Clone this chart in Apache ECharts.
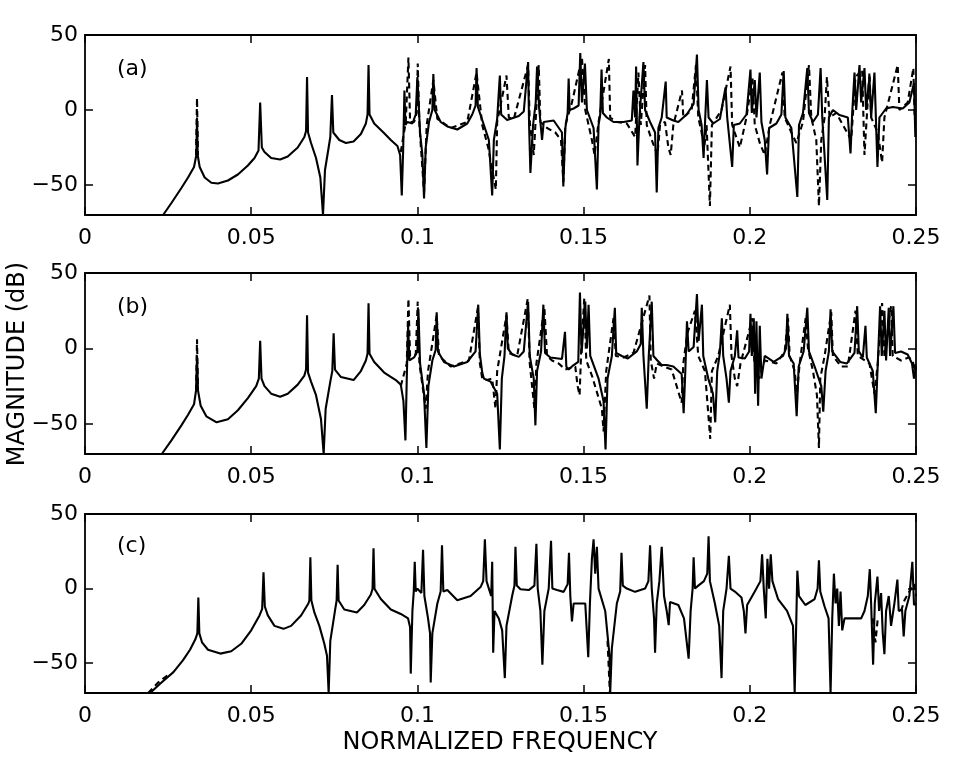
<!DOCTYPE html>
<html>
<head>
<meta charset="utf-8">
<script src="https://cdn.jsdelivr.net/npm/echarts@6/dist/echarts.min.js"></script>
<style>
  html, body { margin: 0; padding: 0; background: #fff; }
  #chart { width: 956px; height: 768px; }
</style>
</head>
<body>
<div id="chart"></div>
<script>
// magnitude responses, [normalized frequency, dB]
const aSolid = [[0.0235,-70],[0.026,-62],[0.029,-52],[0.031,-45],[0.0328,-38],[0.0335,-30],[0.0337,-5],[0.0339,-30],[0.0345,-38],[0.036,-45],[0.038,-48.5],[0.040,-49],[0.043,-47],[0.046,-43],[0.049,-37],[0.051,-32],[0.0522,-27],[0.0527,5],[0.0532,-25],[0.054,-28],[0.056,-32],[0.0587,-33],[0.061,-31],[0.064,-25],[0.066,-18],[0.0665,-14],[0.0668,22],[0.0671,-15],[0.068,-22],[0.0695,-32],[0.0708,-45],[0.0716,-70],[0.0722,-40],[0.0733,-25],[0.0738,-18],[0.0743,10],[0.0747,-15],[0.0765,-20],[0.0785,-22],[0.0808,-21],[0.083,-16],[0.0845,-9],[0.085,-3],[0.0853,30],[0.0856,-3],[0.087,-9],[0.0898,-15],[0.092,-20],[0.094,-24],[0.0948,-30],[0.0953,-57],[0.0957,-28],[0.0961,13],[0.0964,-10],[0.097,-8],[0.0985,-9],[0.0995,-3],[0.1,22],[0.1008,-15],[0.1015,-30],[0.102,-59],[0.1025,-25],[0.1035,-8],[0.1045,0],[0.1048,24],[0.1052,0],[0.107,-8],[0.109,-11],[0.112,-13],[0.115,-9],[0.1165,-3],[0.1175,3],[0.1178,28],[0.1182,2],[0.120,-10],[0.1215,-20],[0.1225,-57],[0.123,-20],[0.124,-6],[0.1248,23],[0.1252,-3],[0.127,-6.7],[0.1305,-4],[0.132,-1],[0.1333,32],[0.1336,-10],[0.134,-42],[0.1348,-10],[0.1356,5],[0.136,29],[0.1366,2],[0.1375,-20],[0.138,-8],[0.141,-7],[0.1435,-15],[0.1439,-51],[0.1445,-12],[0.1452,-2],[0.1455,21],[0.1458,0],[0.147,1],[0.1485,3],[0.149,38],[0.1495,5],[0.1504,31],[0.151,0],[0.153,-12],[0.154,-53],[0.1545,-10],[0.155,-3],[0.1554,27],[0.1558,-2],[0.157,-5],[0.159,-8],[0.162,-8],[0.1645,-7],[0.165,13],[0.1655,-5],[0.1658,29],[0.1662,-37],[0.1668,-5],[0.168,32],[0.1685,0],[0.170,-8],[0.1715,-15],[0.172,-55],[0.1725,-12],[0.1735,-5],[0.1747,19],[0.175,-5],[0.177,-7],[0.1785,-8],[0.181,-3],[0.1831,4],[0.1841,37],[0.1846,0],[0.1855,-10],[0.1861,-32],[0.1866,-5],[0.1871,20],[0.1876,-5],[0.189,-9],[0.191,-6],[0.1927,15],[0.1932,-5],[0.1947,-38],[0.1952,-10],[0.197,-9],[0.199,-3],[0.2002,27],[0.2006,-2],[0.2015,20],[0.202,-5],[0.203,25],[0.2035,-8],[0.2045,-20],[0.2052,-43],[0.2058,-12],[0.208,-9],[0.2095,-3],[0.2102,26],[0.2107,-5],[0.2125,-12],[0.2143,-58],[0.2148,-10],[0.216,-2],[0.2173,28],[0.2178,-2],[0.219,-8],[0.2205,-3],[0.2213,28],[0.2218,-5],[0.2233,-60],[0.2238,-5],[0.225,0],[0.227,-3.4],[0.2295,-5],[0.2303,-29],[0.2308,-2],[0.2315,25],[0.232,0],[0.233,30],[0.2335,5],[0.2345,28],[0.235,0],[0.236,22],[0.2365,-5],[0.2375,25],[0.238,-10],[0.2384,-38],[0.239,-5],[0.241,1],[0.243,2],[0.246,1],[0.248,5],[0.2494,18],[0.2498,-18],[0.25,-18]];

const aDashed = [[0.0334,-30],[0.0337,8],[0.034,-30],['-','-'],[0.095,-28],[0.0965,-8],[0.0973,35],[0.0978,-8],[0.099,-8],[0.0998,-2],[0.1001,31],[0.1006,-10],[0.102,-55],[0.1028,-10],[0.1048,20],[0.106,-6],[0.11,-12],[0.115,-8],[0.1178,25],[0.1195,-10],[0.1213,-25],[0.1236,-53],[0.124,-8],[0.1268,23],[0.1275,-5],[0.129,-6],[0.1333,30],[0.1338,-8],[0.135,-30],[0.1365,30],[0.137,-8],[0.139,-12],[0.1415,-15],[0.1432,-20],[0.1439,-48],[0.1445,-10],[0.1465,5],[0.1495,35],[0.1505,0],[0.1525,-20],[0.1533,-30],[0.1545,-8],[0.1576,34],[0.158,-5],[0.16,-8],[0.163,-9],[0.1655,-18],[0.1665,25],[0.1672,-10],[0.1685,30],[0.169,-10],[0.1705,-20],[0.1722,-30],[0.173,-10],[0.1745,-8],[0.1755,-25],[0.1762,-30],[0.177,-10],[0.1796,13],[0.18,-5],[0.1825,0],[0.1838,30],[0.1845,-5],[0.1855,-15],[0.1863,-25],[0.187,-10],[0.188,-64],[0.1886,-10],[0.1915,0],[0.1942,29],[0.1947,-10],[0.197,-25],[0.199,-5],[0.2008,22],[0.2015,-10],[0.203,-22],[0.2045,-30],[0.206,-10],[0.2098,25],[0.2105,-5],[0.2125,-15],[0.214,-22],[0.216,-8],[0.2178,30],[0.2185,-5],[0.22,-20],[0.2208,-64],[0.2215,-20],[0.2225,-5],[0.2232,22],[0.224,-5],[0.226,-2],[0.2305,-20],[0.2318,22],[0.2338,27],[0.2345,-30],[0.236,25],[0.2365,-5],[0.2385,-15],[0.2398,-35],[0.2405,-5],[0.2445,30],[0.245,0],[0.2475,5],[0.2492,28],[0.2496,-5],[0.25,-5]];

const bSolid = [[0.0231,-70],[0.026,-61],[0.029,-51],[0.031,-44],[0.0328,-37],[0.0334,-28],[0.0337,-5],[0.034,-28],[0.0348,-38],[0.0365,-45],[0.0396,-49],[0.043,-47],[0.046,-41],[0.049,-33],[0.0515,-25],[0.0523,-20],[0.0527,5],[0.0531,-20],[0.054,-25],[0.056,-30],[0.0587,-32],[0.061,-30],[0.064,-24],[0.066,-18],[0.0665,-14],[0.0668,22],[0.0671,-16],[0.068,-22],[0.0695,-31],[0.071,-47],[0.0718,-70],[0.0724,-40],[0.0738,-22],[0.0744,-15],[0.0748,10],[0.0752,-14],[0.077,-19],[0.0808,-21],[0.083,-15],[0.0845,-8],[0.085,-3.6],[0.0853,30],[0.0856,-3.6],[0.087,-9],[0.09,-16],[0.0935,-21],[0.095,-24],[0.0958,-35],[0.0964,-61],[0.0968,-20],[0.0972,15],[0.0976,-8],[0.099,-6],[0.1,-2],[0.1003,26],[0.1008,-10],[0.102,-30],[0.1027,-66],[0.1033,-25],[0.1045,-8],[0.1055,-1],[0.1058,24],[0.1062,-2],[0.108,-9],[0.111,-12],[0.115,-9],[0.1175,-2],[0.1183,29],[0.1188,-4],[0.1195,-16],[0.12,-20],[0.122,-22],[0.124,-30],[0.1248,-67],[0.1254,-20],[0.1262,-5],[0.1268,24],[0.1272,0],[0.1285,-4],[0.1305,-5.6],[0.132,-2],[0.1333,31],[0.1338,-5],[0.135,-20],[0.1355,-51],[0.136,-15],[0.1372,-2],[0.1379,29],[0.1384,-3],[0.14,-6],[0.1435,-7],[0.1444,11],[0.1448,-12],[0.1455,-14],[0.147,-11],[0.1484,-9],[0.1489,37],[0.1494,-3],[0.1505,31],[0.151,0],[0.1515,29],[0.152,-5],[0.1545,-20],[0.156,-35],[0.1566,-67],[0.1572,-20],[0.1585,-5],[0.1594,27],[0.1598,-3],[0.1615,-5],[0.1633,-6.7],[0.166,-2],[0.1672,3],[0.1675,27],[0.168,-5],[0.169,-40],[0.1696,-5],[0.1705,31],[0.171,-5],[0.1722,-8],[0.1735,-11],[0.175,-11],[0.177,-12],[0.1795,-17],[0.1801,-43],[0.1806,-15],[0.1811,18],[0.1816,-2],[0.1831,1],[0.1841,36],[0.1846,5],[0.1856,29],[0.186,-5],[0.1875,-20],[0.1889,-30],[0.1896,-49],[0.1902,-15],[0.191,-3],[0.1916,20],[0.192,-5],[0.193,-20],[0.1937,-36],[0.1942,-15],[0.1955,-5],[0.1962,12],[0.1966,-6],[0.1985,-6.7],[0.1998,-2],[0.2002,23],[0.2006,-5],[0.2012,20],[0.2016,-30],[0.202,18],[0.2025,-38],[0.203,15],[0.2035,-20],[0.2045,-5],[0.2072,-9],[0.21,-5],[0.2109,0],[0.2113,23],[0.2118,-5],[0.2132,-10],[0.2141,-45],[0.2147,-12],[0.2162,-2],[0.2173,27],[0.2178,-2],[0.2195,-12],[0.2215,-25],[0.2221,-42],[0.2228,-15],[0.2238,-2],[0.2243,26],[0.2248,-2],[0.2272,-9],[0.2292,-10],[0.2315,-3],[0.2323,28],[0.2328,-2],[0.234,-6],[0.2348,15],[0.2352,-6],[0.237,-15],[0.2379,-43],[0.2385,-10],[0.2392,28],[0.2397,-5],[0.2405,25],[0.241,-8],[0.2418,27],[0.2422,-5],[0.2432,28],[0.2437,-3],[0.2455,-2],[0.2475,-4],[0.2488,-10],[0.2494,-20],[0.25,-12]];

const bDashed = [[0.0334,-28],[0.0337,6],[0.034,-28],['-','-'],[0.095,-25],[0.0968,-10],[0.0973,33],[0.0978,-5],[0.0995,-4],[0.1001,31],[0.1006,-10],[0.1025,-40],[0.1032,-15],[0.1058,22],[0.1065,-5],[0.11,-12],[0.1155,-8],[0.1182,27],[0.1188,-10],[0.1195,-20],[0.121,-21],[0.1225,-20],[0.1235,-40],[0.124,-15],[0.1268,22],[0.1275,-3],[0.13,-5],[0.1332,33],[0.1338,-10],[0.1352,-40],[0.1358,-10],[0.1382,27],[0.139,-5],[0.1405,-8],[0.1425,-10],[0.1445,-14],[0.146,-13],[0.1475,-12],[0.1482,-25],[0.1488,-31],[0.1493,0],[0.1502,33],[0.1508,-8],[0.1525,-18],[0.1555,-40],[0.156,-55],[0.1568,-15],[0.159,20],[0.1597,-5],[0.162,-6],[0.165,-3],[0.1698,35],[0.1702,-8],[0.1712,-20],[0.172,-10],[0.174,-12],[0.1765,-14],[0.1795,-36],[0.18,-10],[0.1812,10],[0.1835,25],[0.1845,-5],[0.1865,-15],[0.1881,-60],[0.1886,-15],[0.1905,-5],[0.194,29],[0.1945,-5],[0.1955,-20],[0.1962,-25],[0.1972,-10],[0.2008,20],[0.2014,-10],[0.2028,-20],[0.2045,-8],[0.208,-10],[0.2105,-2],[0.2115,20],[0.212,-5],[0.2135,-15],[0.2142,-30],[0.215,-10],[0.2168,20],[0.2175,0],[0.219,-15],[0.2202,-31],[0.2208,-66],[0.2212,-20],[0.2225,-5],[0.2245,24],[0.225,-5],[0.2275,-12],[0.2295,-12],[0.2318,25],[0.2325,-5],[0.236,-10],[0.2375,-30],[0.2385,-10],[0.2398,30],[0.2405,-5],[0.2425,28],[0.243,-5],[0.2455,-8],[0.2478,-6],[0.249,-8],[0.2496,-15],[0.25,-8]];

const cSolid = [[0.0196,-70],[0.0225,-64],[0.0266,-56],[0.0295,-48],[0.0316,-41],[0.0332,-34],[0.0338,-30],[0.0341,-6],[0.0344,-30],[0.0352,-36],[0.037,-41],[0.0407,-43.6],[0.044,-42],[0.047,-37],[0.05,-28],[0.0525,-18],[0.0533,-13.6],[0.0537,11],[0.0541,-12],[0.055,-18],[0.057,-25],[0.0597,-27],[0.062,-25],[0.065,-18],[0.0672,-10],[0.0675,-8],[0.0678,21],[0.0681,-8],[0.069,-16],[0.0705,-25],[0.072,-37],[0.0728,-45],[0.0733,-70],[0.0738,-35],[0.0752,-15],[0.0757,-8],[0.076,16],[0.0763,-8],[0.078,-14],[0.0818,-16],[0.084,-11],[0.086,-4],[0.0865,-0.2],[0.0868,27],[0.0871,-0.2],[0.089,-7],[0.092,-14],[0.095,-17],[0.0972,-20],[0.0978,-26],[0.098,-57],[0.0985,-15],[0.0989,-2],[0.0992,18],[0.0995,-2],[0.1,0],[0.1012,-3],[0.1017,26],[0.1021,-5],[0.1032,-20],[0.1038,-30],[0.104,-63],[0.1045,-30],[0.106,-10],[0.107,-2],[0.1074,29],[0.1078,-2],[0.109,-1],[0.112,-7.8],[0.116,-5],[0.119,1],[0.1198,5],[0.1203,33],[0.1208,5],[0.1215,0],[0.1222,-5],[0.1225,18],[0.1228,-43],[0.1232,-15],[0.1245,-20],[0.1255,-28],[0.1263,-60],[0.1268,-25],[0.1285,-5],[0.1292,2],[0.1295,28],[0.1299,2],[0.131,-0.5],[0.1335,-1],[0.1352,2],[0.1358,30],[0.1362,0],[0.137,-15],[0.1376,-51],[0.1382,-15],[0.1395,0],[0.1402,32],[0.1406,0],[0.142,-1],[0.144,-2.2],[0.1452,3],[0.1456,24],[0.146,-5],[0.1465,-22],[0.147,-10],[0.149,-10],[0.1505,-10],[0.1514,-46],[0.1519,-10],[0.1525,20],[0.153,33],[0.1535,10],[0.154,28],[0.1545,0],[0.1565,-15],[0.1578,-45],[0.158,-70],[0.1585,-40],[0.16,-10],[0.161,-2],[0.1614,24],[0.1618,2],[0.163,0],[0.1655,-2.2],[0.1685,0],[0.1695,5],[0.17,29],[0.1705,0],[0.1712,-20],[0.1715,-43],[0.172,-10],[0.1728,5],[0.1735,28],[0.1742,-5],[0.175,-15],[0.1756,-24.5],[0.176,-9],[0.1785,-11],[0.1802,-20],[0.1816,-47],[0.1822,-15],[0.1828,0],[0.1831,21],[0.1835,0],[0.1845,2],[0.1862,5],[0.1872,10],[0.1876,35],[0.188,5],[0.1895,-10],[0.1908,-25],[0.1915,-60],[0.192,-15],[0.193,0],[0.1937,22],[0.1942,0],[0.1955,-2],[0.1975,-6],[0.1982,-15],[0.1987,-30],[0.1992,-11],[0.2015,-2],[0.2032,5],[0.2037,23],[0.2042,0],[0.2048,-20],[0.2053,20],[0.2058,0],[0.2063,23],[0.2068,5],[0.2085,-7],[0.2112,-15],[0.213,-25],[0.2135,-70],[0.214,-20],[0.2143,12],[0.2148,-5],[0.2167,-11],[0.2195,-7],[0.2204,0],[0.2208,19],[0.2212,-2],[0.2225,-12],[0.2237,-20],[0.2243,-70],[0.2248,-20],[0.2253,10],[0.2258,-10],[0.2263,0],[0.2268,-25],[0.2273,-2],[0.2278,-28],[0.2285,-20],[0.231,-20],[0.2335,-20],[0.2345,-15],[0.2355,-5],[0.2361,13],[0.2365,-10],[0.2371,-51],[0.2376,-10],[0.2384,8],[0.2389,-15],[0.2395,-3],[0.24,-30],[0.2405,-44],[0.241,-15],[0.2418,-5],[0.2425,-25],[0.2435,-10],[0.2444,6],[0.2448,-15],[0.2458,-14],[0.2463,-32],[0.2468,-15],[0.248,-5],[0.2489,18],[0.2494,-11],[0.25,-10]];

const cDashed = [[0.019,-70],[0.022,-63],[0.0255,-57],['-','-'],[0.1572,-35],[0.1579,-70],['-','-'],[0.237,-20],[0.2378,-36],[0.2385,-20],['-','-'],[0.2455,-15],[0.2465,-8],[0.248,-2],[0.2495,3],[0.25,-5]];

const panelNames = ['(a)', '(b)', '(c)'];
const yTickValues = [-50, 0, 50];
const xTickStep = 0.05;

const solids = [aSolid, bSolid, cSolid];
const dashes = [aDashed, bDashed, cDashed];
const grids = [
    { left: 85, right: 40, top: 35, height: 180 },
    { left: 85, right: 40, top: 273, height: 181 },
    { left: 85, right: 40, top: 514, height: 179 }
];
const labelTops = [58, 296, 535];

const font = 'DejaVu Sans';
const axisLine = { show: true, onZero: false, lineStyle: { color: '#000', width: 1.8 } };
const tick = { show: true, inside: true, length: 8, lineStyle: { color: '#000', width: 1.5 } };

const xAxes = [];
const yAxes = [];
const series = [];

grids.forEach((g, i) => {
    xAxes.push({
        gridIndex: i, type: 'value', min: 0, max: 0.25, interval: xTickStep,
        axisLine: axisLine, axisTick: tick, splitLine: { show: false },
        axisLabel: {
            color: '#000', fontFamily: font, fontSize: 22, margin: 12,
            formatter: v => String(parseFloat(v.toFixed(2)))
        }
    });
    xAxes.push({
        gridIndex: i, type: 'value', position: 'top', min: 0, max: 0.25, interval: xTickStep,
        axisLine: axisLine, axisTick: tick, axisLabel: { show: false }, splitLine: { show: false }
    });
    yAxes.push({
        gridIndex: i, type: 'value', min: -70, max: 50,
        axisLine: axisLine,
        axisTick: Object.assign({ customValues: yTickValues }, tick),
        splitLine: { show: false },
        axisLabel: {
            customValues: yTickValues, color: '#000', fontFamily: font, fontSize: 22, margin: 7,
            formatter: v => v < 0 ? '\u2212' + Math.abs(v) : String(v)
        }
    });
    yAxes.push({
        gridIndex: i, type: 'value', position: 'right', min: -70, max: 50,
        axisLine: axisLine,
        axisTick: Object.assign({ customValues: yTickValues }, tick),
        axisLabel: { show: false }, splitLine: { show: false }
    });
    series.push({
        type: 'line', xAxisIndex: 2 * i, yAxisIndex: 2 * i,
        data: dashes[i], showSymbol: false, connectNulls: false,
        lineStyle: { color: '#000', width: 2.1, type: [6, 4] }
    });
    series.push({
        type: 'line', xAxisIndex: 2 * i, yAxisIndex: 2 * i,
        data: solids[i], showSymbol: false,
        lineStyle: { color: '#000', width: 2.1 }
    });
});

const chart = echarts.init(document.getElementById('chart'), null, { renderer: 'canvas' });
chart.setOption({
    animation: false,
    backgroundColor: '#fff',
    title: panelNames.map((t, i) => ({
        text: t, left: 117, top: labelTops[i], padding: 0,
        textStyle: { color: '#000', fontFamily: font, fontSize: 22, fontWeight: 'normal' }
    })),
    grid: grids,
    xAxis: xAxes,
    yAxis: yAxes,
    series: series,
    graphic: [
        {
            type: 'text', x: 18, y: 364, rotation: Math.PI / 2,
            style: {
                text: 'MAGNITUDE (dB)', fill: '#000', font: '24px "DejaVu Sans"',
                textAlign: 'center', textVerticalAlign: 'middle'
            }
        },
        {
            type: 'text', x: 500, y: 743,
            style: {
                text: 'NORMALIZED FREQUENCY', fill: '#000', font: '24px "DejaVu Sans"',
                textAlign: 'center', textVerticalAlign: 'middle'
            }
        }
    ]
});
</script>
</body>
</html>
